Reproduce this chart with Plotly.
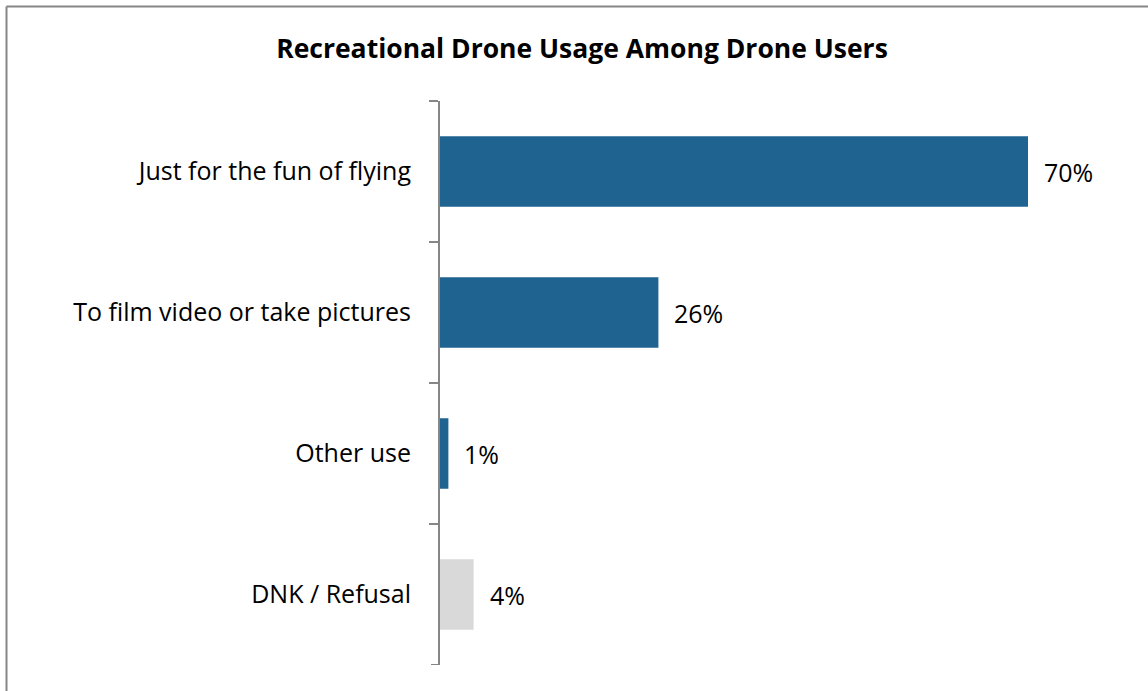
import plotly.graph_objects as go

# Survey results: reasons for recreational drone use
categories = ["Just for the fun of flying", "To film video or take pictures", "Other use", "DNK / Refusal"]
shares = [70, 26, 1, 4]
bar_colors = ["#1F6391", "#1F6391", "#1F6391", "#D9D9D9"]
value_labels = ["70%", "26%", "1%", "4%"]

W, H = 1148, 691
L, T, B = 440, 101, 26
X_MAX = 80
PX_PER_UNIT = 8.4
plot_w = X_MAX * PX_PER_UNIT
R = W - L - plot_w
plot_h = H - T - B

FONT = "Open Sans"
AXIS_GREY = "#868686"
LABEL_SIZE = 25
TICK_LEN = 9

fig = go.Figure()
fig.add_trace(go.Bar(
    x=shares,
    y=categories,
    orientation="h",
    marker=dict(color=bar_colors, line=dict(width=0)),
    width=0.5,
    hoverinfo="skip",
))

for cat, v, lab in zip(categories, shares, value_labels):
    fig.add_annotation(
        x=v, y=cat, text=lab, showarrow=False,
        xanchor="left", yanchor="middle", xshift=14,
        font=dict(family=FONT, size=LABEL_SIZE, color="#000000"),
    )

def px_to_paper_x(px):
    return (px - L) / plot_w

def px_to_paper_y(py):
    return 1 - (py - T) / plot_h

# Outer frame: left and top edges
fx, fy = px_to_paper_x(6.5), px_to_paper_y(6.5)
fig.add_shape(type="line", xref="paper", yref="paper",
              x0=fx, x1=fx, y0=fy, y1=px_to_paper_y(H + 5),
              line=dict(color=AXIS_GREY, width=2))
fig.add_shape(type="line", xref="paper", yref="paper",
              x0=fx, x1=px_to_paper_x(W + 5), y0=fy, y1=fy,
              line=dict(color=AXIS_GREY, width=2))

# Closing tick mark at the lower end of the category axis
fig.add_shape(type="line", xref="paper", yref="y",
              x0=px_to_paper_x(L - TICK_LEN), x1=px_to_paper_x(L),
              y0=len(categories) - 0.5, y1=len(categories) - 0.5,
              line=dict(color=AXIS_GREY, width=2))

fig.update_layout(
    width=W, height=H,
    margin=dict(l=L, r=R, t=T, b=B, pad=0),
    paper_bgcolor="#FFFFFF",
    plot_bgcolor="#FFFFFF",
    showlegend=False,
    title=dict(
        text="<b>Recreational Drone Usage Among Drone Users</b>",
        x=582 / W, xanchor="center",
        y=1 - 49 / H, yanchor="middle",
        font=dict(family=FONT, size=26.5, color="#000000"),
    ),
    xaxis=dict(
        range=[0, X_MAX], visible=False, fixedrange=True,
    ),
    yaxis=dict(
        range=[len(categories) - 0.5, -0.5],
        type="category",
        showline=True, linecolor=AXIS_GREY, linewidth=2,
        ticks="outside", tickson="boundaries", ticklen=TICK_LEN,
        tickcolor=AXIS_GREY, tickwidth=2,
        showgrid=False, zeroline=False,
        ticklabelstandoff=22,
        tickfont=dict(family=FONT, size=LABEL_SIZE, color="#000000"),
        fixedrange=True,
    ),
    bargap=0.5,
)

fig.write_html("out.html")
